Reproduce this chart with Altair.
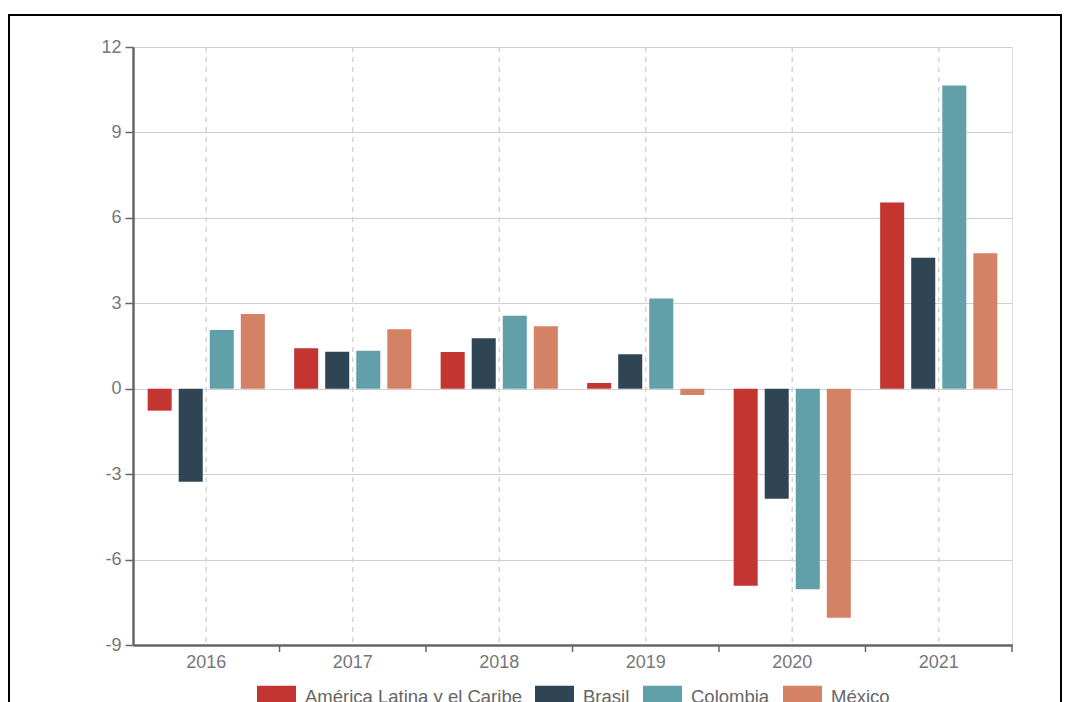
import altair as alt
import pandas as pd

years = ["2016", "2017", "2018", "2019", "2020", "2021"]
series = ["América Latina y el Caribe", "Brasil", "Colombia", "México"]
alc = [-0.77, 1.42, 1.29, 0.20, -6.92, 6.54]
brasil = [-3.27, 1.30, 1.77, 1.21, -3.86, 4.60]
colombia = [2.06, 1.33, 2.56, 3.17, -7.04, 10.65]
mexico = [2.62, 2.09, 2.19, -0.22, -8.04, 4.76]
colors = ["#c23531", "#2f4554", "#61a0a8", "#d48265"]
y_ticks = [-9, -6, -3, 0, 3, 6, 9, 12]

rows = []
for name, vals in zip(series, [alc, brasil, colombia, mexico]):
    for yr, v in zip(years, vals):
        rows.append({"year": yr, "serie": name, "valor": v})
df = pd.DataFrame(rows)
yr_df = pd.DataFrame({"year": years})

FONT = "Liberation Sans"
W, H = 879, 598

xscale = alt.Scale(domain=years, paddingInner=0.2, paddingOuter=0.1)
yscale = alt.Scale(domain=[-9, 12], nice=False, zero=False)
xaxis = alt.Axis(title=None, grid=False, ticks=False, domainColor="#666666",
                 domainWidth=2.5, labelFontSize=18, labelColor="#777777",
                 labelAngle=0, labelPadding=8, labelFont=FONT)
yaxis = alt.Axis(title=None, values=y_ticks, grid=True, gridColor="#d0d0d0",
                 gridWidth=1, domainColor="#666666", domainWidth=2.5,
                 tickColor="#666666", tickSize=8, tickWidth=1.5,
                 labelFontSize=18, labelColor="#777777", labelPadding=4,
                 labelFont=FONT, labelExpr="'' + datum.value")

grid = alt.Chart(yr_df).mark_rule(
    color="#d6d6d6", strokeWidth=1.5, strokeDash=[5, 5]
).encode(
    x=alt.X("year:N", scale=xscale, sort=years, axis=xaxis),
    y=alt.value(0), y2=alt.value(H),
)

bars = alt.Chart(df).mark_bar().encode(
    x=alt.X("year:N", scale=xscale, sort=years, axis=xaxis),
    xOffset=alt.XOffset("serie:N", sort=series,
                        scale=alt.Scale(paddingInner=0.226, paddingOuter=0)),
    y=alt.Y("valor:Q", scale=yscale, axis=yaxis),
    color=alt.Color("serie:N", sort=series,
                    scale=alt.Scale(domain=series, range=colors),
                    legend=alt.Legend(
                        title=None, orient="none", direction="horizontal",
                        legendX=124, legendY=630, padding=0,
                        symbolType="M-1,-0.56 H1 V0.56 H-1 Z", symbolSize=1521,
                        symbolStrokeWidth=0, symbolOpacity=1,
                        labelFontSize=18.5, labelColor="#666666", labelFont=FONT,
                        labelLimit=500, labelOffset=9, columnPadding=13)),
)

ticks = alt.Chart(yr_df).mark_rule(color="#666666", strokeWidth=1.5, xOffset=14.65).encode(
    x=alt.X("year:N", scale=xscale, sort=years, bandPosition=1, axis=xaxis),
    y=alt.value(H), y2=alt.value(H + 7),
)

frame = alt.Chart(pd.DataFrame({"f": [0]})).mark_rect(
    fillOpacity=0, stroke="#000000", strokeWidth=2
).encode(
    x=alt.value(-124), x2=alt.value(928), y=alt.value(-32), y2=alt.value(680),
)

chart = alt.layer(frame, grid, bars, ticks).properties(
    width=W, height=H,
    padding={"left": 125, "top": 39, "right": 50, "bottom": 57},
    autosize=alt.AutoSizeParams(type="none"),
).configure_view(stroke=None).configure(font=FONT)

chart.save("out.html", embed_options={"renderer": "svg", "actions": False})
